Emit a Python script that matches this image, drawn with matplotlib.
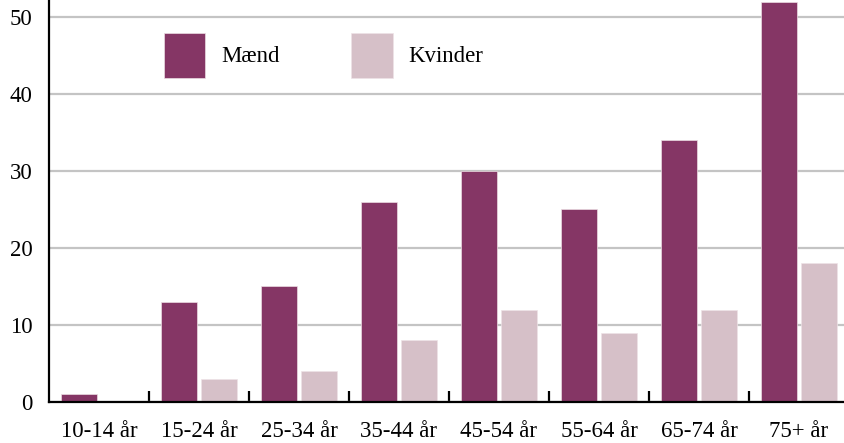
import matplotlib
matplotlib.use("Agg")
import matplotlib.pyplot as plt
import numpy as np

categories = ["10-14 år", "15-24 år", "25-34 år", "35-44 år", "45-54 år", "55-64 år", "65-74 år", "75+ år"]
maend = [1, 13, 15, 26, 30, 25, 34, 52]
kvinder = [0, 3, 4, 8, 12, 9, 12, 18]
series_names = ["Mænd", "Kvinder"]
colors = ["#853665", "#d6c0c8"]
yticks = [0, 10, 20, 30, 40, 50]

plt.rcParams['font.family'] = ['Liberation Serif', 'DejaVu Serif']

W, H = 844, 443
FS = 16.5
fig = plt.figure(figsize=(W / 100, H / 100), dpi=100)
ax = fig.add_axes([49 / W, (H - 402) / H, 800 / W, 402 / H])

x = np.arange(len(categories))
bw = 0.36
ax.bar(x - 0.2, maend, bw, color=colors[0], label=series_names[0], zorder=3,
       edgecolor="#ecdde3", linewidth=0.5)
ax.bar(x + 0.2, kvinder, bw, color=colors[1], label=series_names[1], zorder=3,
       edgecolor="#eee3e7", linewidth=0.5)

ax.set_xlim(-0.5, len(categories) - 0.5)
ax.set_ylim(0, 52.2)

ax.set_yticks(yticks)
ax.set_yticklabels([str(v) for v in yticks], fontsize=FS)
ax.tick_params(axis='y', length=0, pad=12)
ax.yaxis.grid(True, color="#c4c4c4", linewidth=1.6, zorder=0)

ax.set_xticks(x)
ax.set_xticklabels(categories, fontsize=FS)
ax.tick_params(axis='x', which='major', length=0, pad=14)
ax.set_xticks(np.arange(0.5, len(categories) - 1, 1.0), minor=True)
ax.tick_params(axis='x', which='minor', direction='in', length=8, width=1.6, color='black')

for s in ["top", "right"]:
    ax.spines[s].set_visible(False)
ax.spines["left"].set_linewidth(1.6)
ax.spines["bottom"].set_linewidth(1.6)
ax.spines["left"].set_zorder(4)
ax.spines["bottom"].set_zorder(4)

leg = ax.legend(loc="upper left", bbox_to_anchor=(0.144, 0.918), ncol=2, frameon=False,
                fontsize=FS, handlelength=1.79, handleheight=2.65, handletextpad=0.68,
                columnspacing=3.15, borderaxespad=0, borderpad=0)

fig.savefig("out.png", dpi=100)
